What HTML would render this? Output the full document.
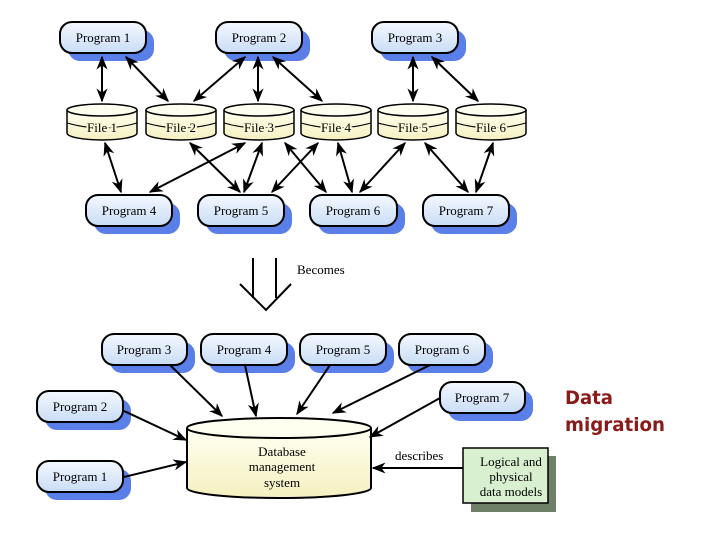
<!DOCTYPE html>
<html><head><meta charset="utf-8"><style>
html,body{margin:0;padding:0;background:#fff;}
svg{display:block;font-family:"Liberation Serif",serif;}
.ft{stroke:#f9f6d6;stroke-width:4;paint-order:stroke;}
</style></head><body>
<svg width="720" height="540" viewBox="0 0 720 540" xmlns="http://www.w3.org/2000/svg">
<defs>
<linearGradient id="pg" x1="0" y1="0" x2="0" y2="1"><stop offset="0" stop-color="#f4f8ff"/><stop offset="1" stop-color="#c9ddf5"/></linearGradient>
<linearGradient id="cy" x1="0" y1="0" x2="0" y2="1"><stop offset="0" stop-color="#fffff0"/><stop offset="1" stop-color="#f5f0c0"/></linearGradient>
<marker id="a" viewBox="0 0 10 10" refX="9" refY="5" markerWidth="7" markerHeight="7" orient="auto-start-reverse"><path d="M0,1 L10,5 L0,9 L3,5 z" fill="#000"/></marker>
</defs>
<g id="progs" font-size="13" text-anchor="middle">
<g><rect x="68" y="30" width="86" height="31" rx="12" fill="#5b7fe8"/><rect x="60" y="22" width="86" height="31" rx="12" fill="url(#pg)" stroke="#000" stroke-width="2"/><text x="103" y="42">Program 1</text></g>
<g><rect x="224" y="30" width="86" height="31" rx="12" fill="#5b7fe8"/><rect x="216" y="22" width="86" height="31" rx="12" fill="url(#pg)" stroke="#000" stroke-width="2"/><text x="259" y="42">Program 2</text></g>
<g><rect x="380" y="30" width="86" height="31" rx="12" fill="#5b7fe8"/><rect x="372" y="22" width="86" height="31" rx="12" fill="url(#pg)" stroke="#000" stroke-width="2"/><text x="415" y="42">Program 3</text></g>
<g><rect x="94" y="203" width="86" height="31" rx="12" fill="#5b7fe8"/><rect x="86" y="195" width="86" height="31" rx="12" fill="url(#pg)" stroke="#000" stroke-width="2"/><text x="129" y="215">Program 4</text></g>
<g><rect x="206" y="203" width="86" height="31" rx="12" fill="#5b7fe8"/><rect x="198" y="195" width="86" height="31" rx="12" fill="url(#pg)" stroke="#000" stroke-width="2"/><text x="241" y="215">Program 5</text></g>
<g><rect x="318" y="203" width="87" height="31" rx="12" fill="#5b7fe8"/><rect x="310" y="195" width="87" height="31" rx="12" fill="url(#pg)" stroke="#000" stroke-width="2"/><text x="353" y="215">Program 6</text></g>
<g><rect x="431" y="203" width="86" height="31" rx="12" fill="#5b7fe8"/><rect x="423" y="195" width="86" height="31" rx="12" fill="url(#pg)" stroke="#000" stroke-width="2"/><text x="466" y="215">Program 7</text></g>
<g><rect x="110" y="342" width="85" height="31" rx="12" fill="#5b7fe8"/><rect x="102" y="334" width="85" height="31" rx="12" fill="url(#pg)" stroke="#000" stroke-width="2"/><text x="144" y="354">Program 3</text></g>
<g><rect x="209" y="342" width="86" height="31" rx="12" fill="#5b7fe8"/><rect x="201" y="334" width="86" height="31" rx="12" fill="url(#pg)" stroke="#000" stroke-width="2"/><text x="244" y="354">Program 4</text></g>
<g><rect x="308" y="342" width="86" height="31" rx="12" fill="#5b7fe8"/><rect x="300" y="334" width="86" height="31" rx="12" fill="url(#pg)" stroke="#000" stroke-width="2"/><text x="343" y="354">Program 5</text></g>
<g><rect x="407" y="342" width="86" height="31" rx="12" fill="#5b7fe8"/><rect x="399" y="334" width="86" height="31" rx="12" fill="url(#pg)" stroke="#000" stroke-width="2"/><text x="442" y="354">Program 6</text></g>
<g><rect x="45" y="399" width="86" height="31" rx="12" fill="#5b7fe8"/><rect x="37" y="391" width="86" height="31" rx="12" fill="url(#pg)" stroke="#000" stroke-width="2"/><text x="80" y="411">Program 2</text></g>
<g><rect x="45" y="469" width="86" height="31" rx="12" fill="#5b7fe8"/><rect x="37" y="461" width="86" height="31" rx="12" fill="url(#pg)" stroke="#000" stroke-width="2"/><text x="80" y="481">Program 1</text></g>
<g><rect x="448" y="390" width="85" height="31" rx="12" fill="#5b7fe8"/><rect x="440" y="382" width="85" height="31" rx="12" fill="url(#pg)" stroke="#000" stroke-width="2"/><text x="482" y="402">Program 7</text></g>
</g>
<g font-size="13" text-anchor="middle" stroke-width="1.5">
<g transform="translate(67,0)"><path d="M0,110 L0,133 A35,7 0 0 0 70,133 L70,110" fill="url(#cy)" stroke="#000"/><ellipse cx="35" cy="110" rx="35" ry="6" fill="#fffff0" stroke="#000"/><path d="M0,123 Q35,133 70,123" fill="none" stroke="#000" stroke-width="1"/><text x="35" y="132" class="ft">File 1</text></g>
<g transform="translate(146,0)"><path d="M0,110 L0,133 A35,7 0 0 0 70,133 L70,110" fill="url(#cy)" stroke="#000"/><ellipse cx="35" cy="110" rx="35" ry="6" fill="#fffff0" stroke="#000"/><path d="M0,123 Q35,133 70,123" fill="none" stroke="#000" stroke-width="1"/><text x="35" y="132" class="ft">File 2</text></g>
<g transform="translate(224,0)"><path d="M0,110 L0,133 A35,7 0 0 0 70,133 L70,110" fill="url(#cy)" stroke="#000"/><ellipse cx="35" cy="110" rx="35" ry="6" fill="#fffff0" stroke="#000"/><path d="M0,123 Q35,133 70,123" fill="none" stroke="#000" stroke-width="1"/><text x="35" y="132" class="ft">File 3</text></g>
<g transform="translate(301,0)"><path d="M0,110 L0,133 A35,7 0 0 0 70,133 L70,110" fill="url(#cy)" stroke="#000"/><ellipse cx="35" cy="110" rx="35" ry="6" fill="#fffff0" stroke="#000"/><path d="M0,123 Q35,133 70,123" fill="none" stroke="#000" stroke-width="1"/><text x="35" y="132" class="ft">File 4</text></g>
<g transform="translate(378,0)"><path d="M0,110 L0,133 A35,7 0 0 0 70,133 L70,110" fill="url(#cy)" stroke="#000"/><ellipse cx="35" cy="110" rx="35" ry="6" fill="#fffff0" stroke="#000"/><path d="M0,123 Q35,133 70,123" fill="none" stroke="#000" stroke-width="1"/><text x="35" y="132" class="ft">File 5</text></g>
<g transform="translate(456,0)"><path d="M0,110 L0,133 A35,7 0 0 0 70,133 L70,110" fill="url(#cy)" stroke="#000"/><ellipse cx="35" cy="110" rx="35" ry="6" fill="#fffff0" stroke="#000"/><path d="M0,123 Q35,133 70,123" fill="none" stroke="#000" stroke-width="1"/><text x="35" y="132" class="ft">File 6</text></g>
</g>
<g stroke="#000" stroke-width="2" marker-start="url(#a)" marker-end="url(#a)">
<line x1="102" y1="57" x2="102" y2="101"/>
<line x1="126" y1="57" x2="168" y2="101"/>
<line x1="245" y1="57" x2="194" y2="101"/>
<line x1="258" y1="57" x2="258" y2="101"/>
<line x1="273" y1="57" x2="322" y2="101"/>
<line x1="413" y1="57" x2="413" y2="101"/>
<line x1="432" y1="57" x2="478" y2="101"/>
<line x1="105" y1="143" x2="121" y2="192"/>
<line x1="245" y1="143" x2="150" y2="192"/>
<line x1="190" y1="143" x2="240" y2="192"/>
<line x1="262" y1="143" x2="244" y2="192"/>
<line x1="285" y1="143" x2="326" y2="192"/>
<line x1="318" y1="143" x2="272" y2="192"/>
<line x1="338" y1="143" x2="352" y2="192"/>
<line x1="405" y1="143" x2="360" y2="192"/>
<line x1="425" y1="143" x2="468" y2="192"/>
<line x1="493" y1="143" x2="476" y2="192"/>
</g>
<path d="M253,258 L253,298 M276,258 L276,298 M240,284 L266,310 L291,284" fill="none" stroke="#000" stroke-width="2"/>
<text x="297" y="274" font-size="13">Becomes</text>
<path d="M187,428 L187,488 A92,10 0 0 0 371,488 L371,428" fill="url(#cy)" stroke="#000" stroke-width="2"/>
<ellipse cx="279" cy="428" rx="92" ry="10" fill="#fffff0" stroke="#000" stroke-width="2"/>
<g font-size="13" text-anchor="middle"><text x="282" y="456">Database</text><text x="282" y="471">management</text><text x="282" y="487">system</text></g>
<rect x="471" y="456" width="85" height="56" fill="#6e8068"/>
<rect x="463" y="448" width="85" height="55" fill="#d8f0d0" stroke="#000" stroke-width="1.5"/>
<g font-size="13" text-anchor="middle"><text x="511" y="466">Logical and</text><text x="511" y="481">physical</text><text x="511" y="496">data models</text></g>
<text x="395" y="460" font-size="13">describes</text>
<g stroke="#000" stroke-width="2" marker-end="url(#a)">
<line x1="170" y1="365" x2="222" y2="416"/>
<line x1="245" y1="365" x2="256" y2="416"/>
<line x1="330" y1="365" x2="297" y2="414"/>
<line x1="430" y1="365" x2="333" y2="413"/>
<line x1="440" y1="398" x2="370" y2="437"/>
<line x1="124" y1="411" x2="186" y2="440"/>
<line x1="124" y1="477" x2="186" y2="462"/>
<line x1="463" y1="468" x2="373" y2="468"/>
</g>
<g font-family="'DejaVu Sans',sans-serif" font-weight="bold" font-size="19" fill="#8b1a1a"><text x="565" y="404" textLength="48" lengthAdjust="spacingAndGlyphs">Data</text><text x="565" y="431" textLength="100" lengthAdjust="spacingAndGlyphs">migration</text></g>
</svg>
</body></html>
